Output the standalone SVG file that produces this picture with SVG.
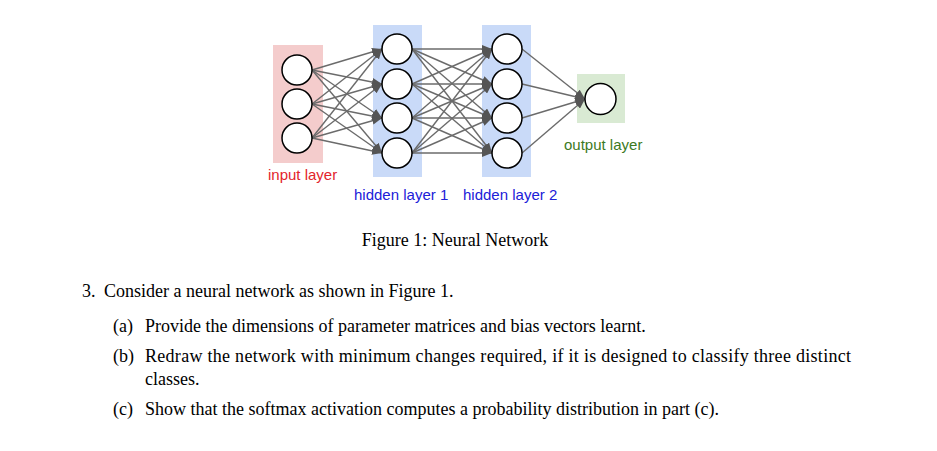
<svg xmlns="http://www.w3.org/2000/svg" width="937" height="451" viewBox="0 0 937 451">
<style>
.lbl{font-family:"Liberation Sans",Arial,sans-serif;font-size:15px}
.tx{font-family:"Liberation Serif","Times New Roman",serif;font-size:18px;fill:#000}
.node{fill:#fff;stroke:#000;stroke-width:1.5}
.c{stroke:#6b6b6b;stroke-width:1.4;fill:none;marker-end:url(#ah)}
</style>
<defs>
<marker id="ah" markerUnits="userSpaceOnUse" markerWidth="10" markerHeight="8" refX="10" refY="4" orient="auto">
<path d="M0,0 L10,4 L0,8 z" fill="#555"/>
</marker>
</defs>
<rect width="937" height="451" fill="#fff"/>
<g id="layers">
<rect x="273" y="45" width="50" height="118" fill="#f4cccc"/>
<rect x="373" y="25" width="49" height="152" fill="#c9daf8"/>
<rect x="482" y="25" width="49" height="152" fill="#c9daf8"/>
<rect x="577" y="74" width="48" height="49" fill="#d9ead3"/>
</g>
<g id="connectors">
<path class="c" d="M312,70 L382,49"/><path class="c" d="M312,70 L382,84"/><path class="c" d="M312,70 L382,118"/><path class="c" d="M312,70 L382,153"/>
<path class="c" d="M312,104 L382,49"/><path class="c" d="M312,104 L382,84"/><path class="c" d="M312,104 L382,118"/><path class="c" d="M312,104 L382,153"/>
<path class="c" d="M312,138 L382,49"/><path class="c" d="M312,138 L382,84"/><path class="c" d="M312,138 L382,118"/><path class="c" d="M312,138 L382,153"/>
<path class="c" d="M412,49 L492,49"/><path class="c" d="M412,49 L492,84"/><path class="c" d="M412,49 L492,118"/><path class="c" d="M412,49 L492,153"/>
<path class="c" d="M412,84 L492,49"/><path class="c" d="M412,84 L492,84"/><path class="c" d="M412,84 L492,118"/><path class="c" d="M412,84 L492,153"/>
<path class="c" d="M412,118 L492,49"/><path class="c" d="M412,118 L492,84"/><path class="c" d="M412,118 L492,118"/><path class="c" d="M412,118 L492,153"/>
<path class="c" d="M412,153 L492,49"/><path class="c" d="M412,153 L492,84"/><path class="c" d="M412,153 L492,118"/><path class="c" d="M412,153 L492,153"/>
<path class="c" d="M522,49 L585,99"/><path class="c" d="M522,84 L585,99"/><path class="c" d="M522,118 L585,99"/><path class="c" d="M522,153 L585,99"/>
</g>
<g id="input-layer">
<circle class="node" cx="297" cy="70" r="15"/>
<circle class="node" cx="297" cy="104" r="15"/>
<circle class="node" cx="297" cy="138" r="15"/>
<text class="lbl" x="268" y="180" fill="#e3242b">input layer</text>
</g>
<g id="hidden-layer-1">
<circle class="node" cx="397" cy="49" r="15"/>
<circle class="node" cx="397" cy="84" r="15"/>
<circle class="node" cx="397" cy="118" r="15"/>
<circle class="node" cx="397" cy="153" r="15"/>
<text class="lbl" x="354" y="200" fill="#2020d8">hidden layer 1</text>
</g>
<g id="hidden-layer-2">
<circle class="node" cx="507" cy="49" r="15"/>
<circle class="node" cx="507" cy="84" r="15"/>
<circle class="node" cx="507" cy="118" r="15"/>
<circle class="node" cx="507" cy="153" r="15"/>
<text class="lbl" x="463" y="200" fill="#2020d8">hidden layer 2</text>
</g>
<g id="output-layer">
<circle class="node" cx="600.5" cy="99" r="15.5"/>
<text class="lbl" x="564" y="150" fill="#3d7a1f">output layer</text>
</g>
<g id="text">
<text class="tx" x="455" y="246" text-anchor="middle">Figure 1: Neural Network</text>
<text class="tx" x="82" y="297">3.</text>
<text class="tx" x="104" y="297">Consider a neural network as shown in Figure 1.</text>
<text class="tx" x="113" y="332">(a)</text>
<text class="tx" x="145" y="332">Provide the dimensions of parameter matrices and bias vectors learnt.</text>
<text class="tx" x="113" y="362">(b)</text>
<text class="tx" x="145" y="362" textLength="706" lengthAdjust="spacing">Redraw the network with minimum changes required, if it is designed to classify three distinct</text>
<text class="tx" x="145" y="385">classes.</text>
<text class="tx" x="113" y="415">(c)</text>
<text class="tx" x="145" y="415">Show that the softmax activation computes a probability distribution in part (c).</text>
</g>
</svg>
